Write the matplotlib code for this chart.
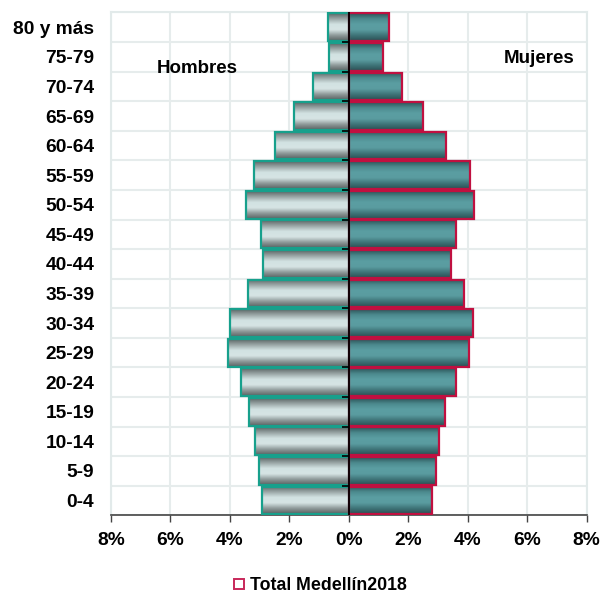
#!/usr/bin/env python

import matplotlib
matplotlib.use('Agg')
import matplotlib.pyplot as plt
import numpy as np
from matplotlib.colors import LinearSegmentedColormap
from matplotlib.lines import Line2D
from matplotlib.ticker import FuncFormatter


groups = ['0-4', '5-9', '10-14', '15-19', '20-24', '25-29', '30-34', '35-39',
          '40-44', '45-49', '50-54', '55-59', '60-64', '65-69', '70-74',
          '75-79', '80 y más']
hombres = [2.93, 3.03, 3.14, 3.36, 3.61, 4.05, 3.98, 3.39,
           2.89, 2.96, 3.46, 3.18, 2.48, 1.83, 1.19, 0.68, 0.70]
mujeres = [2.81, 2.92, 3.03, 3.25, 3.62, 4.04, 4.18, 3.88,
           3.45, 3.60, 4.20, 4.06, 3.27, 2.50, 1.78, 1.14, 1.36]
xticks = [-8, -6, -4, -2, 0, 2, 4, 6, 8]

FONT = 'Liberation Sans'

# vertical "cylinder" shading for each bar
men_cmap = LinearSegmentedColormap.from_list(
    'men', ['#5c6666', '#9aa6a6', '#d2e2e2', '#d6e4e4', '#8f9a9a', '#596262'])
women_cmap = LinearSegmentedColormap.from_list(
    'women', ['#2c5458', '#4c8a8e', '#5b9ea2', '#5a9ca0', '#3f7478', '#2a5054'])


def gradient_bars(ax, bars, cmap):
    grad = np.linspace(0, 1, 64).reshape(-1, 1)
    for rect in bars:
        x0, y0 = rect.get_x(), rect.get_y()
        w, h = rect.get_width(), rect.get_height()
        im = ax.imshow(grad, cmap=cmap, aspect='auto', origin='upper',
                       extent=(x0, x0 + w, y0, y0 + h), zorder=2,
                       interpolation='bilinear')
        im.set_clip_path(rect)


fig = plt.figure(figsize=(6.03, 5.95), dpi=100)
ax = fig.add_axes([0.184, 0.134, 0.789, 0.845])

y = np.arange(len(groups))
left = ax.barh(y, -np.array(hombres), height=0.94, facecolor='none',
               edgecolor='#17a08c', linewidth=1.6, zorder=3)
right = ax.barh(y, mujeres, height=0.94, facecolor='none',
                edgecolor='#c01040', linewidth=1.6, zorder=3)
gradient_bars(ax, left, men_cmap)
gradient_bars(ax, right, women_cmap)

ax.set_xlim(-8, 8)
ax.set_ylim(-0.5, len(groups) - 0.5)
ax.axvline(0, color='black', linewidth=1.3, zorder=4)
# small category ticks sitting on the zero line
bounds = np.arange(0.5, len(groups) - 1, 1)
ax.plot(np.zeros(len(bounds)), bounds, marker=0, linestyle='none',
        color='black', markersize=5, markeredgewidth=1.2, zorder=5)

ax.set_xticks(xticks)
ax.xaxis.set_major_formatter(FuncFormatter(lambda v, p: f'{abs(v):.0f}%'))
ax.set_yticks(y)
ax.set_yticklabels(groups)
ax.set_yticks(np.arange(-0.5, len(groups), 1), minor=True)
ax.tick_params(axis='y', which='both', length=0, pad=12)
ax.tick_params(axis='x', length=5, width=1, color='#444444', pad=7)
for lbl in ax.get_xticklabels() + ax.get_yticklabels():
    lbl.set_fontfamily(FONT)
    lbl.set_fontweight('bold')
    lbl.set_fontsize(13.8)

ax.grid(axis='x', which='major', color='#e6ecec', linewidth=1.5, zorder=0)
ax.grid(axis='y', which='minor', color='#e6ecec', linewidth=1.5, zorder=0)
ax.set_axisbelow(True)
for side in ['top', 'left', 'right']:
    ax.spines[side].set_color('#e2eaea')
    ax.spines[side].set_linewidth(1.5)
ax.spines['bottom'].set_color('#444444')
ax.spines['bottom'].set_linewidth(1.2)

ax.text(-5.1, 14.6, 'Hombres', fontfamily=FONT, fontweight='bold',
        fontsize=13.5, ha='center', va='center')
ax.text(6.4, 14.95, 'Mujeres', fontfamily=FONT, fontweight='bold',
        fontsize=13.5, ha='center', va='center')

handle = Line2D([], [], marker='s', linestyle='none', markersize=7,
                markerfacecolor='white', markeredgecolor='#c8285a',
                markeredgewidth=1.4)
fig.legend([handle], ['Total Medellín2018'], loc='center',
           bbox_to_anchor=(0.53, 0.016), frameon=False, handlelength=0.7,
           handletextpad=0.25,
           prop={'family': FONT, 'weight': 'bold', 'size': 12.8})

fig.savefig('out.png', dpi=100)
